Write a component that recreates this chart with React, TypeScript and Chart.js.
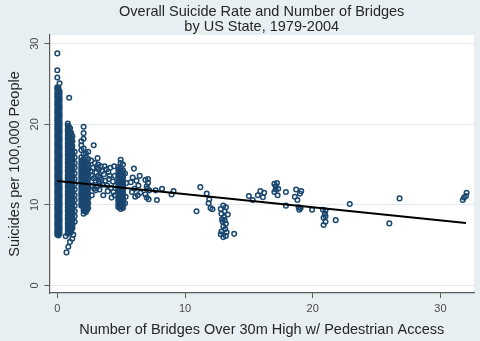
import React, { useEffect, useRef } from "react";
import { Chart, registerables } from "chart.js";

Chart.register(...registerables);

const FONT = "'Liberation Sans', Arial, Helvetica, sans-serif";

const titleLines = ["Overall Suicide Rate and Number of Bridges", "by US State, 1979-2004"];
const xAxisTitle = "Number of Bridges Over 30m High w/ Pedestrian Access";
const yAxisTitle = "Suicides per 100,000 People";
const xTicks = [0, 10, 20, 30];
const yTicks = [0, 10, 20, 30];

// Dense columns of observations (x value, list of y values)
const col0aX = 0.0;
const col0aY = [6.3, 6.6, 6.9, 7.3, 7.6, 7.9, 8.3, 8.6, 8.9, 9.3, 9.6, 9.9, 10.3, 10.6, 10.9, 11.3, 11.6, 11.9, 12.3, 12.6, 12.9, 13.3, 13.6, 13.9, 14.3, 14.6, 14.9, 15.3, 15.6, 15.9, 16.3, 16.6, 16.9, 17.3, 17.6, 17.9, 18.3, 18.6, 18.9, 19.3, 19.6, 19.9, 20.3, 20.6, 20.9, 21.3, 21.6, 21.9, 22.3, 22.6, 22.9, 23.3, 23.6, 23.9, 24.3, 24.6, 25.8, 26.7, 28.8];
const col0bX = 0.175;
const col0bY = [6.4, 6.8, 7.1, 7.4, 7.8, 8.1, 8.4, 8.8, 9.1, 9.4, 9.8, 10.1, 10.4, 10.8, 11.1, 11.4, 11.8, 12.1, 12.4, 12.8, 13.1, 13.4, 13.8, 14.1, 14.4, 14.8, 15.1, 15.4, 15.8, 16.1, 16.4, 16.8, 17.1, 17.4, 17.8, 18.1, 18.4, 18.8, 19.1, 19.4, 19.8, 20.1, 20.4, 20.8, 21.1, 21.4, 21.8, 22.1, 22.4, 22.8, 23.1, 23.4, 23.8, 24.1, 25.1];
const col0cX = 0.09;
const col0cY = [6.2, 6.5, 6.8, 7.2, 7.5, 7.8, 8.2, 8.5, 8.8, 9.2, 9.5, 9.8, 10.2, 10.5, 10.8, 11.2, 11.5, 11.8, 12.2, 12.5, 12.8, 13.2, 13.5, 13.8, 14.2, 14.5, 14.8, 15.2, 15.5, 15.8, 16.2, 16.5, 16.8, 17.2, 17.5, 17.8, 18.2, 18.5, 18.8, 19.2, 19.5, 19.8, 20.2, 20.5, 20.8, 21.2, 21.5, 21.8, 22.2, 22.5, 22.8, 23.2, 23.5, 23.8, 24.2, 24.5];

const col1aX = 0.82;
const col1aY = [6.4, 6.7, 7.1, 7.4, 7.7, 8.1, 8.4, 8.7, 9.1, 9.4, 9.7, 10.1, 10.4, 10.7, 11.1, 11.4, 11.7, 12.1, 12.4, 12.7, 13.1, 13.4, 13.7, 14.1, 14.4, 14.7, 15.1, 15.4, 15.7, 16.1, 16.4, 16.7, 17.1, 17.4, 17.7, 18.1, 18.4, 18.7, 19.1, 19.4, 19.8, 20.1];
const col1bX = 1.0;
const col1bY = [6.9, 7.2, 7.6, 7.9, 8.2, 8.6, 8.9, 9.2, 9.6, 9.9, 10.2, 10.6, 10.9, 11.2, 11.6, 11.9, 12.2, 12.6, 12.9, 13.2, 13.6, 13.9, 14.2, 14.6, 14.9, 15.2, 15.6, 15.9, 16.2, 16.6, 16.9, 17.2, 17.6, 17.9, 18.2, 18.6, 19.0, 19.5];
const col1cX = 1.18;
const col1cY = [7.1, 7.4, 7.7, 8.1, 8.4, 8.7, 9.1, 9.4, 9.7, 10.1, 10.4, 10.7, 11.1, 11.4, 11.7, 12.1, 12.4, 12.7, 13.1, 13.4, 13.7, 14.1, 14.4, 14.7, 15.1, 15.4, 15.7, 16.1, 16.4, 16.8, 17.3, 17.9, 18.5];
const col1dX = 1.36;
const col1dY = [7.9, 8.6, 9.2, 9.9, 10.6, 11.2, 11.9, 12.6, 13.2, 13.9, 14.6, 15.2, 15.9, 16.6];
const col1eX = 0.91;
const col1eY = [6.6, 6.9, 7.3, 7.6, 7.9, 8.3, 8.6, 8.9, 9.3, 9.6, 9.9, 10.3, 10.6, 10.9, 11.3, 11.6, 11.9, 12.3, 12.6, 12.9, 13.3, 13.6, 13.9, 14.3, 14.6, 14.9, 15.3, 15.6, 15.9, 16.3, 16.6, 16.9, 17.3, 17.6, 17.9, 18.3, 18.6, 18.9, 19.3, 19.7];
const col1fX = 1.09;
const col1fY = [7.0, 7.3, 7.7, 8.0, 8.3, 8.7, 9.0, 9.3, 9.7, 10.0, 10.3, 10.7, 11.0, 11.3, 11.7, 12.0, 12.3, 12.7, 13.0, 13.3, 13.7, 14.0, 14.3, 14.7, 15.0, 15.3, 15.7, 16.0, 16.3, 16.7, 17.0, 17.4, 17.8, 18.3, 18.9];

const col2aX = 1.88;
const col2aY = [9.9, 10.2, 10.6, 10.9, 11.3, 11.6, 12.0, 12.3, 12.7, 13.0, 13.4, 13.7, 14.1, 14.4, 14.8, 15.1, 15.5, 15.9, 16.8, 17.4, 17.9];
const col2fX = 1.97;
const col2fY = [10.0, 10.4, 10.7, 11.1, 11.4, 11.8, 12.1, 12.5, 12.8, 13.2, 13.5, 13.9, 14.2, 14.6, 14.9, 15.3];
const col2bX = 2.06;
const col2bY = [8.9, 9.3, 9.6, 10.0, 10.3, 10.7, 11.0, 11.4, 11.7, 12.1, 12.4, 12.8, 13.1, 13.5, 13.8, 14.2, 14.5, 14.9, 15.2, 15.7, 16.3, 17.0, 18.2, 18.9, 19.7];
const col2eX = 2.15;
const col2eY = [9.2, 9.5, 9.9, 10.2, 10.6, 10.9, 11.3, 11.6, 12.0, 12.3, 12.7, 13.0, 13.4, 13.7, 14.1, 14.4, 14.8, 15.2];
const col2cX = 2.24;
const col2cY = [9.1, 9.4, 9.8, 10.1, 10.5, 10.8, 11.2, 11.5, 11.9, 12.2, 12.6, 12.9, 13.3, 13.6, 14.0, 14.3, 14.7, 15.2, 15.9, 16.4];
const col2gX = 2.33;
const col2gY = [9.4, 9.9, 10.4, 10.9, 11.4, 11.9, 12.4, 12.9, 13.4, 13.9, 14.4, 14.9];
const col2dX = 2.42;
const col2dY = [9.6, 10.2, 10.8, 11.4, 12.0, 12.6, 13.2, 13.8, 14.4, 15.0, 15.7, 16.6];

const col5aX = 4.78;
const col5aY = [9.7, 10.0, 10.4, 10.7, 11.0, 11.4, 11.7, 12.0, 12.4, 12.7, 13.0, 13.4, 13.7, 14.0, 14.4, 14.7];
const col5bX = 4.96;
const col5bY = [9.5, 9.9, 10.2, 10.5, 10.9, 11.2, 11.5, 11.9, 12.2, 12.5, 12.9, 13.2, 13.5, 13.9, 14.2, 14.6, 15.2, 15.6];
const col5cX = 5.14;
const col5cY = [9.6, 10.0, 10.4, 10.7, 11.1, 11.4, 11.8, 12.1, 12.5, 12.8, 13.2, 13.5, 13.9, 14.3, 15.0];
const col5dX = 4.87;
const col5dY = [9.8, 10.2, 10.6, 11.0, 11.4, 11.8, 12.2, 12.6, 13.0, 13.4, 13.8, 14.2];
const col5eX = 5.05;
const col5eY = [9.7, 10.1, 10.5, 10.9, 11.3, 11.7, 12.1, 12.5, 12.9, 13.3, 13.7, 14.1];

// Individually visible observations [x, y]
const lowTail: [number, number][] = [
  [0.72, 4.1], [0.86, 4.8], [0.99, 5.4], [1.17, 5.8], [0.66, 6.1], [1.25, 6.3], [1.08, 6.6], [0.93, 23.3],
];
const midBridges: [number, number][] = [
  [2.7, 11.2], [2.75, 12.4], [2.7, 13.6], [2.8, 14.6], [2.85, 17.4], [2.95, 15.2], [3.0, 13.0], [3.05, 14.0],
  [3.0, 11.8], [3.15, 15.8], [3.2, 15.0], [3.25, 14.4], [3.3, 12.6], [3.2, 13.6], [3.3, 11.9], [3.45, 13.1],
  [3.5, 14.2], [3.7, 14.8], [3.85, 14.4], [4.0, 14.1], [4.15, 14.6], [3.75, 13.0], [3.9, 12.4], [4.05, 13.2],
  [4.2, 12.1], [3.95, 11.7], [4.35, 12.9], [4.4, 11.6], [3.6, 11.2], [4.25, 10.9],
  [3.1, 12.2], [3.35, 13.4], [3.4, 14.8], [2.9, 12.0], [3.55, 12.5], [4.1, 13.6], [3.65, 13.8],
  [2.6, 14.2], [2.65, 15.5], [3.1, 14.6], [3.25, 12.9], [2.85, 13.3],
  [4.5, 13.6], [4.55, 12.4], [4.5, 11.2], [5.35, 11.0], [5.4, 12.7], [5.3, 13.9], [5.3, 10.2], [4.45, 14.8],
  [5.75, 12.8], [5.9, 13.4], [6.0, 14.5], [6.2, 13.0], [6.35, 12.4], [6.05, 12.0], [6.1, 11.0], [6.5, 11.5],
  [6.45, 13.6], [5.85, 11.6], [6.3, 11.2],
  [6.9, 13.1], [7.1, 13.2], [7.0, 12.3], [7.2, 11.8], [6.9, 11.3], [7.0, 10.9], [7.15, 10.7], [7.1, 12.7], [7.05, 12.0],
  [7.7, 11.8], [7.8, 10.6], [8.2, 12.0], [8.95, 11.3], [9.1, 11.7],
];
const highBridges: [number, number][] = [
  [10.9, 9.2], [11.2, 12.2], [11.7, 11.4], [11.9, 10.7], [11.85, 10.2], [12.0, 9.6], [12.15, 9.45],
  [13.0, 9.9], [12.8, 9.5], [13.2, 9.7], [12.85, 8.9], [13.05, 8.5], [13.1, 8.1], [12.95, 7.9], [13.2, 7.65],
  [13.0, 7.3], [13.15, 7.0], [12.85, 6.7], [13.25, 6.6], [12.8, 6.35], [13.0, 6.0], [13.2, 6.15], [13.35, 8.8],
  [13.1, 9.2], [12.9, 8.2], [13.85, 6.4],
  [15.0, 11.1], [15.3, 10.6], [15.7, 11.2], [15.9, 11.7], [16.1, 10.95], [16.2, 11.5],
  [17.0, 12.6], [17.1, 12.3], [17.2, 12.7], [17.1, 11.9], [17.0, 11.6], [17.25, 11.2], [17.3, 12.0],
  [17.9, 11.6], [17.9, 9.9], [18.7, 11.9], [18.6, 11.0], [18.8, 10.6], [19.0, 11.4], [19.1, 11.7],
  [18.9, 9.7], [18.95, 9.4], [19.05, 9.6], [19.95, 9.4],
  [20.8, 9.4], [21.0, 9.3], [20.95, 8.9], [21.0, 8.6], [20.85, 8.4], [21.0, 7.9], [20.85, 7.5], [21.8, 8.1],
  [22.9, 10.1], [26.0, 7.7], [26.8, 10.8], [31.75, 10.6], [31.85, 10.9], [32.0, 11.1], [32.05, 11.5],
];

// Fitted regression line end points
const fitX = [0, 32];
const fitY = [12.95, 7.75];

const denseColumns: [number, number[]][] = [
  [col0aX, col0aY], [col0bX, col0bY], [col0cX, col0cY],
  [col1aX, col1aY], [col1bX, col1bY], [col1cX, col1cY], [col1dX, col1dY], [col1eX, col1eY], [col1fX, col1fY],
  [col2aX, col2aY], [col2bX, col2bY], [col2cX, col2cY], [col2dX, col2dY], [col2eX, col2eY], [col2fX, col2fY], [col2gX, col2gY],
  [col5aX, col5aY], [col5bX, col5bY], [col5cX, col5cY], [col5dX, col5dY], [col5eX, col5eY],
];

const scatterPoints = [
  ...denseColumns.flatMap(([x, ys]) => ys.map((y) => ({ x, y }))),
  ...lowTail.map(([x, y]) => ({ x, y })),
  ...midBridges.map(([x, y]) => ({ x, y })),
  ...highBridges.map(([x, y]) => ({ x, y })),
];
const fitPoints = fitX.map((x, i) => ({ x, y: fitY[i] }));

const bgPlugin = {
  id: "stataBackground",
  beforeDraw(chart: any) {
    const { ctx, chartArea } = chart;
    ctx.save();
    ctx.fillStyle = "#e8eff2";
    ctx.fillRect(0, 0, chart.width, chart.height);
    ctx.fillStyle = "#ffffff";
    ctx.fillRect(chartArea.left, chartArea.top, chartArea.right - chartArea.left, chartArea.bottom - chartArea.top);
    ctx.restore();
  },
};

const AXIS = "#5a5a5a";
const TICK_TEXT = "#4a4a4a";
const TITLE_TEXT = "#262626";

export default function App() {
  const ref = useRef<HTMLCanvasElement>(null);
  useEffect(() => {
    document.body.style.margin = "0";
    if (!ref.current) return;
    const chart = new Chart(ref.current, {
      type: "scatter",
      data: {
        datasets: [
          {
            type: "line",
            data: fitPoints,
            borderColor: "#000000",
            borderWidth: 2,
            pointRadius: 0,
            showLine: true,
            fill: false,
            order: 0,
          } as any,
          {
            type: "scatter",
            data: scatterPoints,
            pointStyle: "circle",
            pointRadius: 2.3,
            pointBorderWidth: 1.5,
            borderColor: "#1a476f",
            pointBorderColor: "#1a476f",
            backgroundColor: "rgba(0,0,0,0)",
            pointBackgroundColor: "rgba(0,0,0,0)",
            order: 1,
          } as any,
        ],
      },
      options: {
        responsive: false,
        animation: false,
        devicePixelRatio: 1,
        events: [],
        layout: { padding: { left: 0, right: 6, top: 0, bottom: 0 } },
        plugins: {
          legend: { display: false },
          tooltip: { enabled: false },
          title: {
            display: true,
            text: titleLines,
            fullSize: false,
            color: TITLE_TEXT,
            font: { family: FONT, size: 14.5, weight: "normal", lineHeight: 1.03 },
            padding: { top: 5, bottom: 0 },
          },
        },
        scales: {
          x: {
            type: "linear",
            min: -0.62,
            max: 32.63,
            afterBuildTicks: (scale: any) => {
              scale.ticks = xTicks.map((v) => ({ value: v }));
            },
            ticks: { color: TICK_TEXT, font: { family: FONT, size: 11 }, padding: 4.5, maxRotation: 0 },
            grid: { drawOnChartArea: false, drawTicks: true, tickLength: 5, tickColor: AXIS, tickWidth: 1 },
            border: { display: true, color: AXIS, width: 1.2 },
            title: {
              display: true,
              text: xAxisTitle,
              color: TITLE_TEXT,
              font: { family: FONT, size: 14.5 },
              padding: { top: 0.9, bottom: 2.5 },
            },
          },
          y: {
            type: "linear",
            min: -0.94,
            max: 31.1,
            afterBuildTicks: (scale: any) => {
              scale.ticks = yTicks.map((v) => ({ value: v }));
            },
            ticks: {
              color: TICK_TEXT,
              font: { family: FONT, size: 11 },
              padding: 3.4,
              minRotation: 90,
              maxRotation: 90,
              crossAlign: "center",
            },
            grid: { color: "#e0e9ed", lineWidth: 1, drawTicks: true, tickLength: 5, tickColor: AXIS, tickWidth: 1 },
            border: { display: true, color: AXIS, width: 1.2 },
            title: {
              display: true,
              text: yAxisTitle,
              color: TITLE_TEXT,
              font: { family: FONT, size: 14.5 },
              padding: { top: 6.3, bottom: 0.7 },
            },
          },
        },
      } as any,
      plugins: [bgPlugin],
    });
    return () => chart.destroy();
  }, []);
  return (
    <div style={{ position: "absolute", left: 0, top: 0, width: 480, height: 341 }}>
      <canvas ref={ref} width={480} height={341} style={{ display: "block", width: 480, height: 341 }} />
    </div>
  );
}
